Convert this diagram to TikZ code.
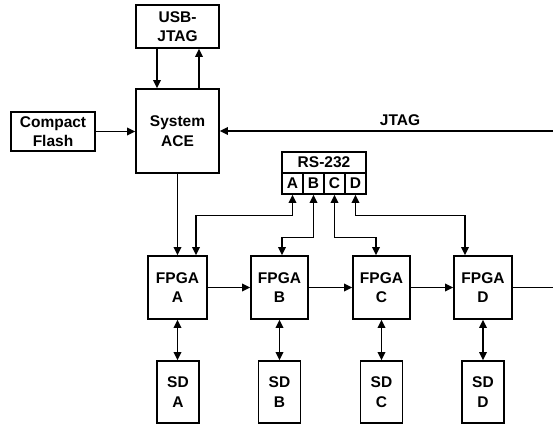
\documentclass[tikz,border=0pt]{standalone}
\usepackage{fontspec}
\setmainfont{Liberation Sans}
\usetikzlibrary{arrows.meta}
\begin{document}
\begin{tikzpicture}[x=1pt,y=-1pt,
  box/.style={draw,line width=1.7pt,inner sep=0pt,align=center,
    font=\fontsize{15.5}{19.5}\selectfont\bfseries},
  conn/.style={line width=1.7pt,-{Triangle[length=8pt,width=7.5pt]}},
  bidir/.style={line width=1.7pt,{Triangle[length=8pt,width=7.5pt]}-{Triangle[length=8pt,width=7.5pt]}},
  lbl/.style={font=\fontsize{15.5}{19.5}\selectfont\bfseries,inner sep=0pt}]
\useasboundingbox (0,0) rectangle (553,425);
% main boxes
\node[box,minimum width=83pt,minimum height=43pt] (usb) at (177.5,26.5) {USB-\\JTAG};
\node[box,minimum width=83pt,minimum height=84pt] (ace) at (177.5,131) {System\\ACE};
\node[box,minimum width=84pt,minimum height=39pt] (cf) at (53,131.5) {Compact\\Flash};
% RS-232
\node[box,minimum width=84pt,minimum height=21pt] (rs) at (324,162.5) {RS-232};
\node[box,minimum width=21pt,minimum height=21pt] (ca) at (292.5,183.5) {A};
\node[box,minimum width=21pt,minimum height=21pt] (cb) at (313.5,183.5) {B};
\node[box,minimum width=21pt,minimum height=21pt] (cc) at (334.5,183.5) {C};
\node[box,minimum width=21pt,minimum height=21pt] (cd) at (355.5,183.5) {D};
% FPGAs
\node[box,minimum width=59pt,minimum height=63pt] (fa) at (177.5,287.5) {FPGA\\A};
\node[box,minimum width=57pt,minimum height=63pt] (fb) at (279.5,287.5) {FPGA\\B};
\node[box,minimum width=57pt,minimum height=63pt] (fc) at (381.5,287.5) {FPGA\\C};
\node[box,minimum width=58pt,minimum height=63pt] (fd) at (483,287.5) {FPGA\\D};
% SDs
\node[box,minimum width=42pt,minimum height=62pt] (sa) at (178,392) {SD\\A};
\node[box,minimum width=42pt,minimum height=62pt] (sb) at (279.5,392) {SD\\B};
\node[box,minimum width=42pt,minimum height=62pt] (sc) at (381.5,392) {SD\\C};
\node[box,minimum width=42pt,minimum height=62pt] (sd) at (483,392) {SD\\D};
% free ends
\coordinate (jtagin) at (553,131);
\coordinate (chainout) at (553,287.5);
% USB-JTAG <-> ACE
\draw[conn] ([xshift=-20.5pt]usb.south) -- ([xshift=-20.5pt]ace.north);
\draw[conn] ([xshift=21.5pt]ace.north) -- ([xshift=21.5pt]usb.south);
% CF -> ACE
\draw[conn] (cf.east) -- (cf.east -| ace.west);
% JTAG
\draw[conn] (jtagin) -- (ace.east);
\node[lbl] (jtaglbl) at (400,120.5) {JTAG};
% ACE -> FPGA A
\draw[conn] (ace.south) -- (ace.south |- fa.north);
% RS-232 links
\draw[bidir] (ca.south) -- ++(0,20.5) -| ([xshift=18.5pt]fa.north);
\draw[bidir] (cb.south) -- ++(0,42.5) -| ([xshift=2.5pt]fb.north);
\draw[bidir] (cc.south) -- ++(0,42.5) -| ([xshift=-5.5pt]fc.north);
\draw[bidir] (cd.south) -- ++(0,20.5) -| ([xshift=-18pt]fd.north);
% chain
\draw[conn] (fa.east) -- (fb.west);
\draw[conn] (fb.east) -- (fc.west);
\draw[conn] (fc.east) -- (fd.west);
\draw[line width=1.7pt] (fd.east) -- (chainout);
% SD links
\draw[bidir] (fa.south) -- (fa.south |- sa.north);
\draw[bidir] (fb.south) -- (sb.north);
\draw[bidir] (fc.south) -- (sc.north);
\draw[bidir] (fd.south) -- (sd.north);
\end{tikzpicture}
\end{document}
